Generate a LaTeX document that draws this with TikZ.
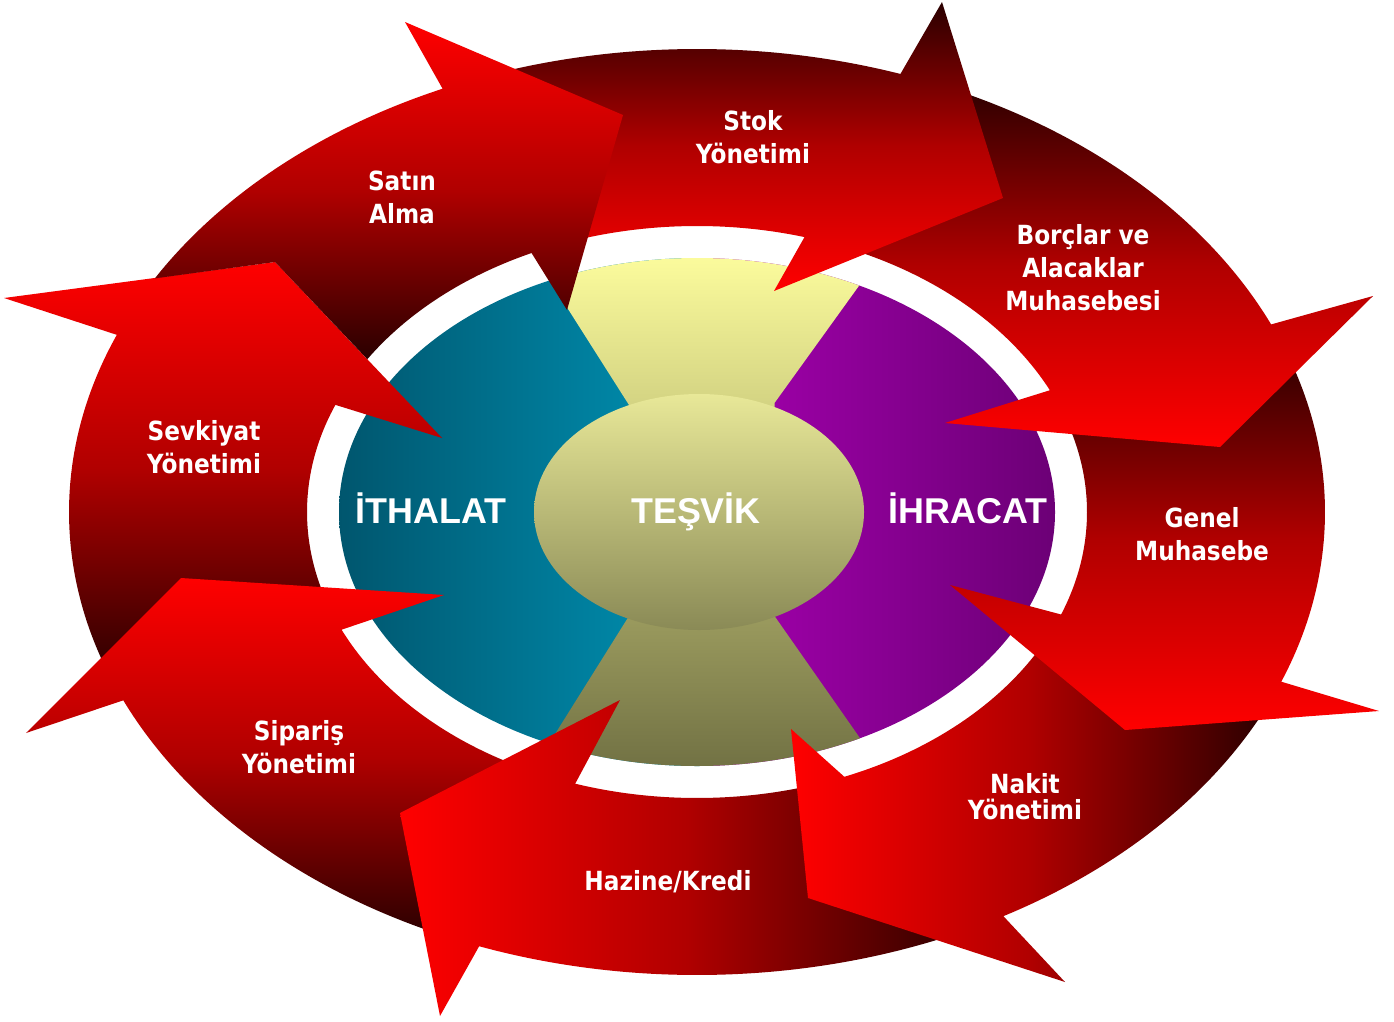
\documentclass[tikz,border=0pt]{standalone}
\usepackage{fontspec}
\newfontfamily\lblfont{DejaVu Sans}[FakeStretch=0.88]
\newfontfamily\ctrfont{Liberation Sans}
\definecolor{brred}{HTML}{FF0000}
\definecolor{midred}{HTML}{B00000}
\definecolor{dkred}{HTML}{2A0000}
\definecolor{tealA}{HTML}{00566E}
\definecolor{tealB}{HTML}{0092B4}
\definecolor{purA}{HTML}{A600B0}
\definecolor{purB}{HTML}{6C0076}
\definecolor{yelA}{HTML}{FBFB9C}
\definecolor{yelB}{HTML}{727244}
\definecolor{ctrA}{HTML}{E8E898}
\definecolor{ctrB}{HTML}{8A8A56}

\begin{document}
\begin{tikzpicture}[x=0.01cm,y=-0.01cm,
  lbl/.style={text=white,align=center,font=\lblfont\bfseries\fontsize{7.5}{9.4}\selectfont},
  big/.style={text=white,anchor=base,font=\ctrfont\bfseries\fontsize{10.2}{12}\selectfont},
  fromtop/.style={top color=brred,bottom color=dkred,middle color=midred},
  tobottom/.style={top color=dkred,bottom color=brred,middle color=midred},
  fromleft/.style={left color=brred,right color=dkred,middle color=midred}]
\useasboundingbox (0,0) rectangle (1394,1021);
\fill[white] (0,0) rectangle (1394,1021);
\coordinate (C) at (697,512);

% centre: ithalat / tesvik / ihracat
\begin{scope}
  \clip (C) ellipse [x radius=358, y radius=254];
  \shade[left color=tealA,right color=tealB] (339,250) rectangle (700,770);
  \shade[left color=purA,right color=purB] (700,250) rectangle (1056,770);
  \shade[top color=yelA,bottom color=yelB] (535.6,258) -- (879,258) -- (774.5,403) -- (774.5,616)
    -- (879.5,766) -- (535,766) -- (629,616) -- (629,405) -- cycle;
\end{scope}
\shade[top color=ctrA,bottom color=ctrB] (699,512) ellipse [x radius=165, y radius=118];

% ring of arrows, drawn so that every head lies on the next tail
\shade[fromtop] ([shift={(159:628 and 463)}]C) arc[start angle=159, end angle=202.5, x radius=628, y radius=463]
  -- (4,298) -- (275,262) -- (442,438)
  -- ([shift={(202:390 and 286)}]C) arc[start angle=202, end angle=158.7, x radius=390, y radius=286] -- cycle;
\shade[fromtop] ([shift={(113.3:628 and 463)}]C) arc[start angle=113.3, end angle=156, x radius=628, y radius=463]
  -- (26,733) -- (181,578) -- (444,595)
  -- ([shift={(155.7:390 and 286)}]C) arc[start angle=155.7, end angle=111.2, x radius=390, y radius=286] -- cycle;
\shade[fromleft] ([shift={(63.8:628 and 463)}]C) arc[start angle=63.8, end angle=110.3, x radius=628, y radius=463]
  -- (440,1016) -- (400,813) -- (620,700)
  -- ([shift={(108.2:390 and 286)}]C) arc[start angle=108.2, end angle=70.8, x radius=390, y radius=286] -- cycle;
\shade[fromleft] ([shift={(24.5:628 and 463)}]C) arc[start angle=24.5, end angle=60.8, x radius=628, y radius=463]
  -- (1065,982) -- (808,898) -- (791,729)
  -- ([shift={(67.8:390 and 286)}]C) arc[start angle=67.8, end angle=24, x radius=390, y radius=286] -- cycle;
\shade[tobottom] ([shift={(339.1:628 and 463)}]C) arc[start angle=339.1, end angle=381.5, x radius=628, y radius=463]
  -- (1379,711) -- (1125,730) -- (950,585)
  -- ([shift={(381:390 and 286)}]C) arc[start angle=381, end angle=337.8, x radius=390, y radius=286] -- cycle;
\shade[tobottom] ([shift={(291.9:628 and 463)}]C) arc[start angle=291.9, end angle=336.1, x radius=628, y radius=463]
  -- (1373,296) -- (1220,447) -- (945,423)
  -- ([shift={(334.8:390 and 286)}]C) arc[start angle=334.8, end angle=289, x radius=390, y radius=286] -- cycle;
\shade[tobottom] ([shift={(249.1:628 and 463)}]C) arc[start angle=249.1, end angle=288.9, x radius=628, y radius=463]
  -- (942,2) -- (1003,198) -- (774,291)
  -- ([shift={(286:390 and 286)}]C) arc[start angle=286, end angle=247.9, x radius=390, y radius=286] -- cycle;
\shade[fromtop] (275,262) -- ([shift={(210.3:628 and 463)}]C) arc[start angle=210.3, end angle=246.1, x radius=628, y radius=463]
  -- (405,22) -- (623,115) -- (567,310)
  -- ([shift={(244.9:390 and 286)}]C) arc[start angle=244.9, end angle=212.3, x radius=390, y radius=286] -- cycle;

% labels
\node[big] (ithalat) at (431,523) {İTHALAT};
\node[big] (tesvik) at (696,523) {TEŞVİK};
\node[big] (ihracat) at (968,523) {İHRACAT};

\node[lbl] (satin) at (402,197) {Satın\\Alma};
\node[lbl] (stok) at (753,137) {Stok\\Yönetimi};
\node[lbl] (borc) at (1083,268) {Borçlar ve\\Alacaklar\\Muhasebesi};
\node[lbl] (genel) at (1202,534) {Genel\\Muhasebe};
\node[lbl] (nakit) at (1025,797) {Nakit\\[-2pt]Yönetimi};
\node[lbl] (hazine) at (668,882) {Hazine/Kredi};
\node[lbl] (siparis) at (299,747) {Sipariş\\Yönetimi};
\node[lbl] (sevk) at (204,447) {Sevkiyat\\Yönetimi};
\end{tikzpicture}
\end{document}
